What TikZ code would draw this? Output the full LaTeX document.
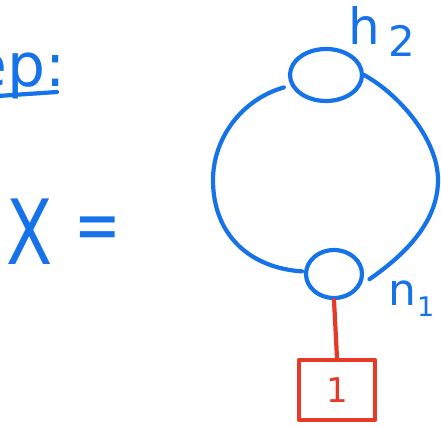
\documentclass[tikz,border=0pt]{standalone}
\usepackage{fontspec}
\setmainfont{DejaVu Sans}
\usetikzlibrary{shapes.geometric}
\definecolor{pen}{RGB}{22,114,232}
\definecolor{redpen}{RGB}{230,57,40}
\tikzset{
  stroke/.style={line width=4.2pt, line cap=round, line join=round},
  loopnode/.style={draw=pen, stroke, ellipse, inner sep=0pt},
  bluetext/.style={text=pen, inner sep=0pt},
  boxnode/.style={draw=redpen, stroke, rectangle, inner sep=0pt, text=redpen}
}
\begin{document}
\begin{tikzpicture}[x=1pt,y=-1pt]
\useasboundingbox (0,0) rectangle (441,427);
% nodes
\node[loopnode, minimum width=72pt, minimum height=52pt] (n2) at (326,75) {};
\node[loopnode, minimum width=56pt, minimum height=48pt] (n1) at (334,274) {};
\node[boxnode, minimum width=76pt, minimum height=60pt, font=\fontsize{34}{34}\selectfont] (one) at (337,390) {1};
% loops between the two nodes
\draw[pen, stroke] ([xshift=-8pt]n2.200) .. controls (240,100) and (213,140) .. (213,180)
  .. controls (213,235) and (250,268) .. ([xshift=-2pt]n1.175);
\draw[pen, stroke] (n2.east) .. controls (400,95) and (438,140) .. (438,180)
  .. controls (438,225) and (400,258) .. ([xshift=6pt]n1.-10);
% red leg
\draw[redpen, stroke] (n1.south) -- (one.north);
% labels
\node[bluetext, font=\fontsize{50}{50}\selectfont, anchor=base west] (lab2) at (348,45) {h\hspace{9pt}\raisebox{-12pt}{\fontsize{42}{42}\selectfont 2}};
\node[bluetext, font=\fontsize{44}{44}\selectfont, anchor=base west] (lab1) at (388,305) {n\hspace{1pt}\raisebox{-11pt}{\fontsize{27}{27}\selectfont 1}};
\node[bluetext, font=\fontsize{90}{90}\selectfont, xscale=0.75, anchor=base] (X) at (30,265) {X};
\node[bluetext, font=\fontsize{74}{74}\selectfont, xscale=0.75, anchor=base] (eq) at (98,251) {=};
\node[bluetext, font=\fontsize{60}{60}\selectfont, anchor=base east] (ep) at (66,87) {ep:};
\draw[pen, stroke] (-2,96) -- (57,92);
\end{tikzpicture}
\end{document}
